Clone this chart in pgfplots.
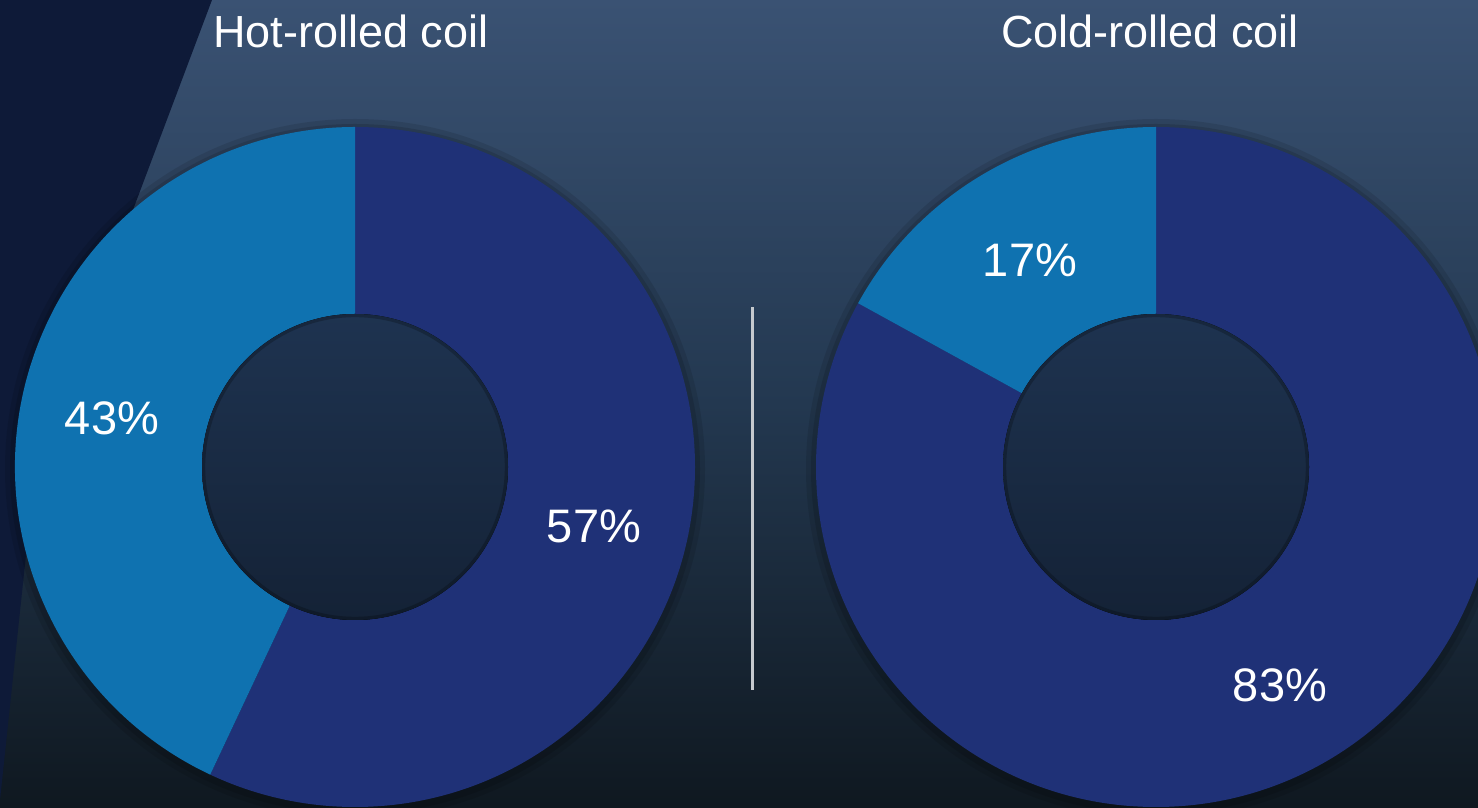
\documentclass[border=0pt]{standalone}
\usepackage{pgfplots}
\usepackage{pgfplotstable}
\pgfplotsset{compat=1.18}
\usepackage{fontspec}
\setmainfont{Liberation Sans}
\definecolor{darkseg}{HTML}{1F3177}
\definecolor{lightseg}{HTML}{0F72B0}
\definecolor{bgtop}{HTML}{3A5273}
\definecolor{bgmid}{HTML}{233850}
\definecolor{bgbot}{HTML}{0F1820}
\definecolor{navy}{HTML}{0E1A38}
\definecolor{holetop}{HTML}{1E3350}
\definecolor{holebot}{HTML}{142236}
\definecolor{sepline}{HTML}{C5C9CE}

\pgfplotstableread{
chart dark light
0 57 43
1 83 17
}\sharetable

\begin{document}
\begin{tikzpicture}
\pgfplotstablegetelem{0}{dark}\of\sharetable \let\hotdark\pgfplotsretval
\pgfplotstablegetelem{0}{light}\of\sharetable \let\hotlight\pgfplotsretval
\pgfplotstablegetelem{1}{dark}\of\sharetable \let\colddark\pgfplotsretval
\pgfplotstablegetelem{1}{light}\of\sharetable \let\coldlight\pgfplotsretval
\pgfmathsetmacro\hotend{90-3.6*\hotdark}
\pgfmathsetmacro\coldend{90-3.6*\colddark}
\begin{axis}[
  x=0.5pt, y=0.5pt,
  xmin=0, xmax=1478, ymin=0, ymax=808,
  scale only axis, hide axis, clip=true,
]
% background
\fill[top color=bgtop, bottom color=bgbot, middle color=bgmid]
  (axis cs:0,0) rectangle (axis cs:1478,808);
\fill[navy] (axis cs:0,808) -- (axis cs:212,808) -- (axis cs:35,338)
  -- (axis cs:0,8) -- cycle;
% soft shadows
\fill[black, opacity=0.10] (axis cs:355,339) circle[radius=175pt];
\fill[black, opacity=0.12] (axis cs:355,339) circle[radius=172.5pt];
\fill[black, opacity=0.10] (axis cs:1156,339) circle[radius=175pt];
\fill[black, opacity=0.12] (axis cs:1156,339) circle[radius=172.5pt];
% Hot-rolled donut
\fill[darkseg] (axis cs:355,341) ++(90:170pt)
  arc[start angle=90, end angle=\hotend, radius=170pt]
  -- ++(\hotend:-93.5pt)
  arc[start angle=\hotend, end angle=90, radius=76.5pt] -- cycle;
\fill[lightseg] (axis cs:355,341) ++(\hotend:170pt)
  arc[start angle=\hotend, end angle=-270, radius=170pt]
  -- ++(-270:-93.5pt)
  arc[start angle=-270, end angle=\hotend, radius=76.5pt] -- cycle;
% Cold-rolled donut
\fill[darkseg] (axis cs:1156,341) ++(90:170pt)
  arc[start angle=90, end angle=\coldend, radius=170pt]
  -- ++(\coldend:-93.5pt)
  arc[start angle=\coldend, end angle=90, radius=76.5pt] -- cycle;
\fill[lightseg] (axis cs:1156,341) ++(\coldend:170pt)
  arc[start angle=\coldend, end angle=-270, radius=170pt]
  -- ++(-270:-93.5pt)
  arc[start angle=-270, end angle=\coldend, radius=76.5pt] -- cycle;
% holes
\fill[top color=holetop, bottom color=holebot] (axis cs:355,341) circle[radius=76.5pt];
\fill[top color=holetop, bottom color=holebot] (axis cs:1156,341) circle[radius=76.5pt];
\draw[black, opacity=0.22, line width=1.6pt] (axis cs:355,341) circle[radius=75.7pt];
\draw[black, opacity=0.22, line width=1.6pt] (axis cs:1156,341) circle[radius=75.7pt];
% separator
\draw[sepline, line width=1.5pt] (axis cs:752,501) -- (axis cs:752,118);
% titles
\node[white, font=\fontsize{22.5}{26}\selectfont] at (axis cs:351,777) {Hot-rolled coil};
\node[white, font=\fontsize{22.5}{26}\selectfont] at (axis cs:1150,777) {Cold-rolled coil};
% labels
\node[white, font=\fontsize{23.5}{27}\selectfont] at (axis cs:594,282) {\hotdark\%};
\node[white, font=\fontsize{23.5}{27}\selectfont] at (axis cs:112,390) {\hotlight\%};
\node[white, font=\fontsize{23.5}{27}\selectfont] at (axis cs:1030,548) {\coldlight\%};
\node[white, font=\fontsize{23.5}{27}\selectfont] at (axis cs:1280,123) {\colddark\%};
\end{axis}
\end{tikzpicture}
\end{document}
